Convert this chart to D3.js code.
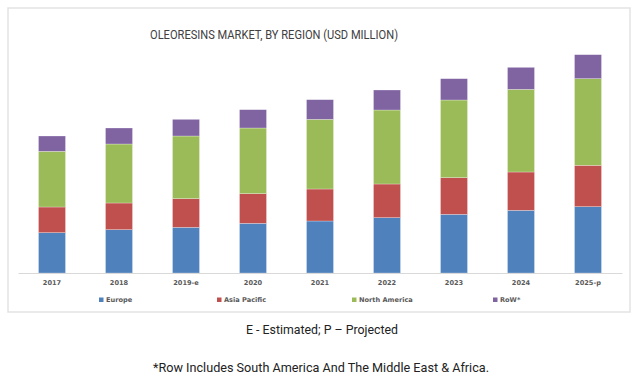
<!DOCTYPE html>
<html>
<head>
<meta charset="utf-8">
<script src="https://cdn.jsdelivr.net/npm/d3@7/dist/d3.min.js"></script>
<style>
  html, body { margin: 0; padding: 0; background: #ffffff; }
  svg { display: block; }
</style>
</head>
<body>
<svg id="chart" width="637" height="382"></svg>
<script>
// ---- Data (USD million) ----
const years = ["2017", "2018", "2019-e", "2020", "2021", "2022", "2023", "2024", "2025-p"];
const seriesNames = ["Europe", "Asia Pacific", "North America", "RoW*"];
const europe       = [121, 130, 137, 149, 156, 166, 176, 188, 199];
const asiaPacific  = [77, 80, 86, 89, 96, 101, 110, 115, 124];
const northAmerica = [167, 177, 188, 197, 209, 222, 233, 248, 260];
const row          = [46, 48, 50, 55, 59, 60, 64, 66, 72];
const colors = ["#4f81bd", "#c0504d", "#9bbb59", "#8064a2"];
const titleText = "OLEORESINS MARKET, BY REGION (USD MILLION)";
const note1 = "E - Estimated; P \u2013 Projected";
const note2 = "*Row Includes South America And The Middle East & Africa.";

const table = years.map((y, i) => ({
  year: y,
  "Europe": europe[i],
  "Asia Pacific": asiaPacific[i],
  "North America": northAmerica[i],
  "RoW*": row[i]
}));

const svg = d3.select("#chart");

// chart frame
svg.append("rect")
  .attr("x", 8).attr("y", 8)
  .attr("width", 622).attr("height", 304)
  .attr("fill", "#ffffff")
  .attr("stroke", "#e3e3e3")
  .attr("stroke-width", 1.5);

const x = d3.scaleBand()
  .domain(years)
  .range([18, 622])
  .paddingInner(0.597)
  .paddingOuter(0.306);

const y = d3.scaleLinear()
  .domain([0, 660])
  .range([273, 53]);

const stack = d3.stack().keys(seriesNames);
const layers = stack(table);

svg.append("g")
  .selectAll("g")
  .data(layers)
  .join("g")
  .attr("fill", (d, i) => colors[i])
  .selectAll("rect")
  .data(d => d)
  .join("rect")
  .attr("x", d => x(d.data.year))
  .attr("y", d => y(d[1]))
  .attr("width", x.bandwidth())
  .attr("height", d => y(d[0]) - y(d[1]))
  .attr("stroke", "#ffffff")
  .attr("stroke-opacity", 0.45)
  .attr("stroke-width", 0.6);

// x axis
const xAxis = svg.append("g")
  .attr("transform", "translate(0,273)")
  .call(d3.axisBottom(x).tickSize(0).tickPadding(7));
xAxis.select(".domain").attr("stroke", "#d9d9d9").attr("stroke-width", 1);
xAxis.selectAll("text")
  .attr("font-family", "DejaVu Sans, sans-serif")
  .attr("font-size", 6.6)
  .attr("font-weight", "bold")
  .attr("fill", "#595959");

// title
svg.append("text")
  .attr("x", 274).attr("y", 39)
  .attr("text-anchor", "middle")
  .attr("font-family", "Liberation Sans Narrow, Arial Narrow, Roboto, sans-serif")
  .attr("font-size", 12)
  .attr("fill", "#404040")
  .attr("textLength", 248)
  .attr("lengthAdjust", "spacingAndGlyphs")
  .text(titleText);

// legend
const legendX = [99, 217, 352, 493];
const legend = svg.append("g")
  .selectAll("g")
  .data(seriesNames)
  .join("g")
  .attr("transform", (d, i) => `translate(${legendX[i]},300)`);
legend.append("rect")
  .attr("x", 0).attr("y", -2.5)
  .attr("width", 4.5).attr("height", 4.5)
  .attr("fill", (d, i) => colors[i]);
legend.append("text")
  .attr("x", 7).attr("y", 2.3)
  .attr("font-family", "DejaVu Sans, sans-serif")
  .attr("font-size", 6.6)
  .attr("font-weight", "bold")
  .attr("fill", "#595959")
  .text(d => d);

// footnotes
svg.append("text")
  .attr("x", 322).attr("y", 334)
  .attr("text-anchor", "middle")
  .attr("font-family", "Liberation Sans Narrow, Arial Narrow, Roboto, sans-serif")
  .attr("font-size", 13)
  .attr("fill", "#222222")
  .attr("textLength", 152)
  .attr("lengthAdjust", "spacingAndGlyphs")
  .text(note1);

svg.append("text")
  .attr("x", 321).attr("y", 372)
  .attr("text-anchor", "middle")
  .attr("font-family", "Liberation Sans Narrow, Arial Narrow, Roboto, sans-serif")
  .attr("font-size", 13)
  .attr("fill", "#222222")
  .attr("textLength", 336)
  .attr("lengthAdjust", "spacingAndGlyphs")
  .text(note2);
</script>
</body>
</html>
